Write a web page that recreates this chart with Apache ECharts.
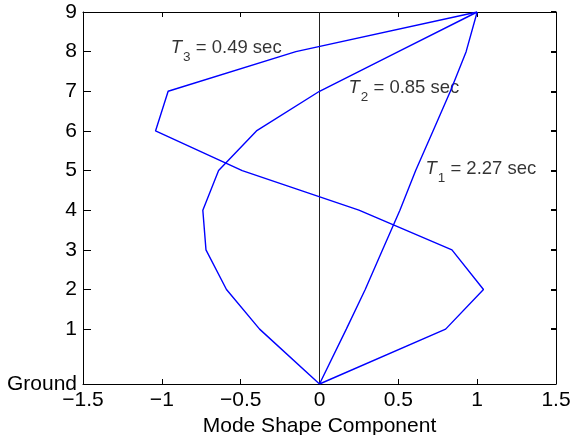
<!DOCTYPE html>
<html>
<head>
<meta charset="utf-8">
<script src="https://cdn.jsdelivr.net/npm/echarts@6/dist/echarts.min.js"></script>
<style>
html,body{margin:0;padding:0;background:#fff;}
#chart{width:571px;height:435px;}
</style>
</head>
<body>
<div id="chart"></div>
<script>
// Floor labels and their heights (ft above ground)
const floorLabels = ['Ground','1','2','3','4','5','6','7','8','9'];
const floorHeights = [0,18,31,44,57,70,83,96,109,122];
// Mode shape components per floor (Ground .. 9)
const mode1 = [0, 0.17, 0.29, 0.40, 0.51, 0.61, 0.72, 0.83, 0.93, 1.00];
const mode2 = [0, -0.38, -0.59, -0.72, -0.74, -0.64, -0.40, 0.00, 0.50, 1.00];
const mode3 = [0, 0.80, 1.04, 0.84, 0.25, -0.49, -1.04, -0.96, -0.15, 1.00];
// Annotations: [x, height, subscript, text]
const annotations = [
  [-0.943, 110.2, '3', ' = 0.49 sec'],
  [0.184, 97.0, '2', ' = 0.85 sec'],
  [0.672, 70.7, '1', ' = 2.27 sec']
];

const FONT = "'Liberation Sans', Arial, Helvetica, sans-serif";
const pts = m => m.map((v, i) => [v, floorHeights[i]]);
const fmtX = v => (v < 0 ? '\u2212' + Math.abs(v) : String(v));
const floorFmt = v => { const i = floorHeights.indexOf(v); return i >= 0 ? floorLabels[i] : ''; };

const mkLine = () => ({ show: true, onZero: false, lineStyle: { color: '#000' } });

const chart = echarts.init(document.getElementById('chart'));
chart.setOption({
  animation: false,
  grid: { left: 83, right: 15, top: 12, bottom: 51, containLabel: false, outerBoundsMode: 'none' },
  xAxis: [
    {
      type: 'value', position: 'bottom', min: -1.5, max: 1.5, interval: 0.5,
      axisLine: mkLine(),
      axisTick: { show: true, inside: true, length: 5, lineStyle: { color: '#000', width: 1 } },
      splitLine: { show: false },
      axisLabel: { color: '#000', fontFamily: FONT, fontSize: 21, margin: 6, formatter: fmtX },
      name: 'Mode Shape Component', nameLocation: 'middle', nameGap: 25,
      nameTextStyle: { color: '#000', fontFamily: FONT, fontSize: 21 }
    },
    {
      type: 'value', position: 'top', min: -1.5, max: 1.5, interval: 0.5,
      axisLine: mkLine(),
      axisTick: { show: true, inside: false, length: -5, lineStyle: { color: '#000', width: 1 } },
      splitLine: { show: false },
      axisLabel: { show: false }
    }
  ],
  yAxis: [
    {
      type: 'value', position: 'left', min: 0, max: 122,
      axisLine: mkLine(),
      axisTick: { show: true, inside: true, length: 8, customValues: floorHeights.slice(1), lineStyle: { color: '#000', width: 1 } },
      splitLine: { show: false },
      axisLabel: { color: '#000', fontFamily: FONT, fontSize: 21, margin: 6,
        customValues: floorHeights, formatter: floorFmt },
      name: 'Floor', nameLocation: 'middle', nameGap: 36, nameRotate: 90,
      nameTextStyle: { color: '#000', fontFamily: FONT, fontSize: 21 }
    },
    {
      type: 'value', position: 'right', min: 0, max: 122,
      axisLine: mkLine(),
      axisTick: { show: true, inside: true, length: 5, customValues: floorHeights.slice(1), lineStyle: { color: '#000', width: 2 } },
      splitLine: { show: false },
      axisLabel: { show: false }
    }
  ],
  series: [
    {
      type: 'line', xAxisIndex: 0, yAxisIndex: 0, symbol: 'none', silent: true,
      data: [[0, floorHeights[0]], [0, floorHeights[floorHeights.length - 1]]],
      lineStyle: { color: '#222', width: 1 }
    },
    { type: 'line', symbol: 'none', data: pts(mode1), lineStyle: { color: '#0000ff', width: 1.4 } },
    { type: 'line', symbol: 'none', data: pts(mode2), lineStyle: { color: '#0000ff', width: 1.4 } },
    { type: 'line', symbol: 'none', data: pts(mode3), lineStyle: { color: '#0000ff', width: 1.4 } },
    {
      type: 'scatter', symbolSize: 0, silent: true,
      data: annotations.map(a => ({
        value: [a[0], a[1]],
        label: {
          show: true, position: 'right', distance: 0, color: '#000',
          formatter: '{t|T}{s|' + a[2] + '}{n|' + a[3] + '}',
          rich: {
            t: { fontFamily: FONT, fontSize: 18.5, fontStyle: 'italic', color: '#000' },
            s: { fontFamily: FONT, fontSize: 13.5, color: '#000', padding: [19, 0, 0, 1] },
            n: { fontFamily: FONT, fontSize: 18.5, color: '#000' }
          }
        }
      }))
    }
  ]
});
</script>
</body>
</html>
